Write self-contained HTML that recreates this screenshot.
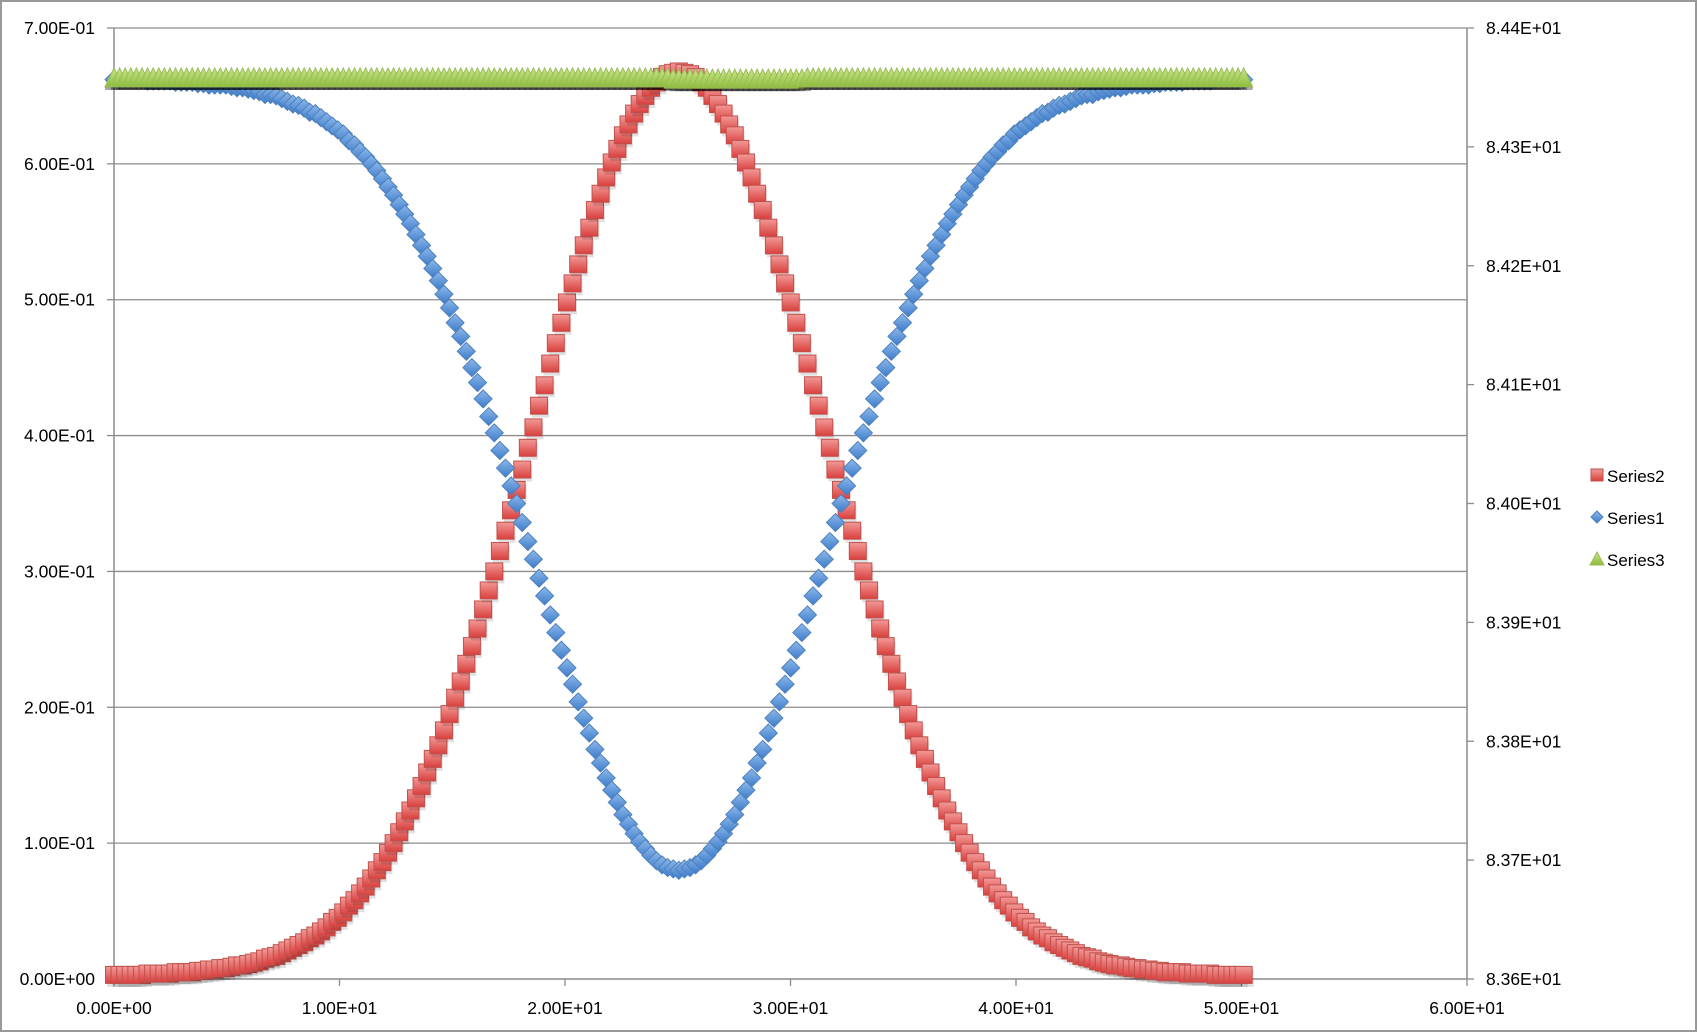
<!DOCTYPE html>
<html><head><meta charset="utf-8">
<style>
html,body{margin:0;padding:0;background:#fff;}
body{width:1698px;height:1033px;overflow:hidden;}
svg{display:block;font-family:"Liberation Sans",sans-serif;}
</style></head>
<body>
<svg id="chart" width="1698" height="1033" viewBox="0 0 1698 1033" xmlns="http://www.w3.org/2000/svg">
<defs>
<linearGradient id="gRed" x1="0" y1="0" x2="0" y2="1"><stop offset="0" stop-color="#f29a98"/><stop offset="1" stop-color="#d9403d"/></linearGradient>
<linearGradient id="gBlue" x1="0" y1="0" x2="0" y2="1"><stop offset="0" stop-color="#8db8ea"/><stop offset="1" stop-color="#3d7ccb"/></linearGradient>
<linearGradient id="gGreen" x1="0" y1="0" x2="0" y2="1"><stop offset="0" stop-color="#c9e58a"/><stop offset="1" stop-color="#8cbd3a"/></linearGradient>
</defs>
<rect x="1" y="1" width="1695" height="1030" fill="#fff" stroke="#999" stroke-width="2"/>
<g id="grid"></g>
<g id="axes"></g>
<g id="s2"></g><g id="s1"></g><g id="s3"></g>
<g id="legend">
<rect x="1591" y="469" width="12" height="12" fill="url(#gRed)" stroke="#c0504d" stroke-width="1"/>
<text x="1607" y="482" font-size="17" fill="#000">Series2</text>
<path d="M1597,511 L1603,517 L1597,523 L1591,517 Z" fill="url(#gBlue)" stroke="#4f81bd" stroke-width="1"/>
<text x="1607" y="524" font-size="17" fill="#000">Series1</text>
<path d="M1597,552 L1604,565 L1590,565 Z" fill="url(#gGreen)" stroke="#9bbb59" stroke-width="1"/>
<text x="1607" y="566" font-size="17" fill="#000">Series3</text>
</g>
</svg>
<script>
const xStart = 0;
const xStep = 0.248;
const series3Step = 0.248;
const xTicks = [0,10,20,30,40,50,60];
const xTickLabels = ["0.00E+00","1.00E+01","2.00E+01","3.00E+01","4.00E+01","5.00E+01","6.00E+01"];
const yTicks = [0,0.1,0.2,0.3,0.4,0.5,0.6,0.7];
const yTickLabels = ["0.00E+00","1.00E-01","2.00E-01","3.00E-01","4.00E-01","5.00E-01","6.00E-01","7.00E-01"];
const y2Ticks = [83.6,83.7,83.8,83.9,84.0,84.1,84.2,84.3,84.4];
const y2TickLabels = ["8.36E+01","8.37E+01","8.38E+01","8.39E+01","8.40E+01","8.41E+01","8.42E+01","8.43E+01","8.44E+01"];
const series2 = [.003,.003,.003,.003,.003,.003,.004,.004,.004,.004,.004,.005,.005,.005,.005,.006,.006,.007,.007,.008,.008,.009,.010,.010,.011,.012,.013,.015,.016,.017,.019,.021,.023,.025,.027,.030,.032,.035,.038,.042,.045,.049,.054,.058,.063,.068,.074,.080,.086,.093,.100,.108,.116,.124,.133,.142,.152,.162,.172,.183,.195,.207,.219,.232,.245,.258,.272,.286,.300,.315,.330,.345,.360,.375,.391,.406,.422,.437,.453,.468,.483,.498,.512,.526,.540,.553,.566,.578,.590,.601,.611,.621,.629,.637,.644,.650,.656,.660,.664,.666,.667,
.668,
.667,.666,.664,.660,.656,.650,.644,.637,.629,.621,.611,.601,.590,.578,.566,.553,.540,.526,.512,.498,.483,.468,.453,.437,.422,.406,.391,.375,.360,.345,.330,.315,.300,.286,.272,.258,.245,.232,.219,.207,.195,.183,.172,.162,.152,.142,.133,.124,.116,.108,.100,.093,.086,.080,.074,.068,.063,.058,.054,.049,.045,.042,.038,.035,.032,.030,.027,.025,.023,.021,.019,.017,.016,.015,.013,.012,.011,.010,.010,.009,.008,.008,.007,.007,.006,.006,.005,.005,.005,.005,.004,.004,.004,.004,.004,.003,.003,.003,.003,.003,.003];
const series1 = [.662,.662,.662,.662,.662,.662,.661,.661,.661,.661,.661,.660,.660,.660,.660,.659,.659,.658,.658,.658,.658,.657,.656,.656,.655,.654,.653,.651,.651,.650,.648,.646,.644,.643,.641,.638,.637,.634,.631,.628,.625,.622,.617,.614,.609,.605,.600,.595,.589,.583,.577,.570,.563,.556,.548,.540,.532,.523,.514,.504,.494,.483,.473,.462,.450,.439,.427,.414,.402,.389,.376,.363,.350,.336,.322,.309,.295,.282,.268,.255,.242,.229,.217,.204,.192,.181,.169,.159,.148,.139,.130,.121,.114,.107,.101,.096,.091,.087,.084,.082,.081,
.080,
.081,.082,.084,.087,.091,.096,.101,.107,.114,.121,.130,.139,.148,.159,.169,.181,.192,.204,.217,.229,.242,.255,.268,.282,.295,.309,.322,.336,.350,.363,.376,.389,.402,.414,.427,.439,.450,.462,.473,.483,.494,.504,.514,.523,.532,.540,.548,.556,.563,.570,.577,.583,.589,.595,.600,.605,.609,.614,.617,.622,.625,.628,.631,.634,.637,.638,.641,.643,.644,.646,.648,.650,.651,.651,.653,.654,.655,.656,.656,.657,.658,.658,.658,.658,.659,.659,.660,.660,.660,.660,.661,.661,.661,.661,.661,.662,.662,.662,.662,.662,.662];
const series3 = [84.358,84.358,84.358,84.358,84.358,84.358,84.358,84.358,84.358,84.358,84.358,84.358,84.358,84.358,84.358,84.358,84.358,84.358,84.358,84.358,84.358,84.358,84.358,84.358,84.358,84.358,84.358,84.358,84.358,84.358,84.358,84.358,84.358,84.358,84.358,84.358,84.358,84.358,84.358,84.358,84.358,84.358,84.358,84.358,84.358,84.358,84.358,84.358,84.358,84.358,
84.358,84.358,84.358,84.358,84.358,84.358,84.358,84.358,84.358,84.358,84.358,84.358,84.358,84.358,84.358,84.358,84.358,84.358,84.358,84.358,84.358,84.358,84.358,84.358,84.358,84.358,84.358,84.358,84.358,84.358,84.358,84.358,84.358,84.358,84.358,84.358,84.358,84.358,84.358,84.358,84.358,84.358,84.358,84.358,84.358,84.358,84.358,84.358,84.358,84.358,
84.357,84.357,84.357,84.357,84.357,84.357,84.357,84.357,84.357,84.357,84.357,84.357,84.357,84.357,84.357,84.357,84.357,84.357,84.357,84.357,84.357,84.357,84.357,84.357,84.358,84.358,84.358,84.358,84.358,84.358,84.358,84.358,84.358,84.358,84.358,84.358,84.358,84.358,84.358,84.358,84.358,84.358,84.358,84.358,84.358,84.358,84.358,84.358,84.358,84.358,
84.358,84.358,84.358,84.358,84.358,84.358,84.358,84.358,84.358,84.358,84.358,84.358,84.358,84.358,84.358,84.358,84.358,84.358,84.358,84.358,84.358,84.358,84.358,84.358,84.358,84.358,84.358,84.358,84.358,84.358,84.358,84.358,84.358,84.358,84.358,84.358,84.358,84.358,84.358,84.358,84.358,84.358,84.358,84.358,84.358,84.358,84.358,84.358,84.358,84.358,
84.358,84.358,84.358];

const NS = "http://www.w3.org/2000/svg";
const L = 114, R = 1467, T = 28, B = 979;
function xs(v){ return L + (v - 0) / 60 * (R - L); }
function ys(v){ return B - v / 0.7 * (B - T); }
function ys2(v){ return B - (v - 83.6) / 0.8 * (B - T); }
function mk(tag, attrs, parent){
  const e = document.createElementNS(NS, tag);
  for (const k in attrs) e.setAttribute(k, attrs[k]);
  parent.appendChild(e);
  return e;
}
const grid = document.getElementById('grid');
const axes = document.getElementById('axes');
yTicks.forEach((v, i) => {
  const y = ys(v);
  if (i > 0) {
    const g = mk('line', {x1:L, x2:R, y1:y, y2:y, stroke:'#8c8c8c', 'stroke-width':1.3}, grid);
    
    
  }
  const tk = mk('line', {x1:L-7, x2:L, y1:y, y2:y, stroke:'#8c8c8c', 'stroke-width':1.3}, axes);
  
  
  const t = mk('text', {x:95, y:y+6, 'text-anchor':'end', 'font-size':17.5, fill:'#000'}, axes);
  t.textContent = yTickLabels[i];
  
  
});
y2Ticks.forEach((v, i) => {
  const y = ys2(v);
  const tk = mk('line', {x1:R, x2:R+7, y1:y, y2:y, stroke:'#8c8c8c', 'stroke-width':1.3}, axes);
  
  
  const t = mk('text', {x:1486, y:y+6, 'font-size':17.5, fill:'#000'}, axes);
  t.textContent = y2TickLabels[i];
  
  
});
xTicks.forEach((v, i) => {
  const x = xs(v);
  const tk = mk('line', {x1:x, x2:x, y1:B, y2:B+7, stroke:'#8c8c8c', 'stroke-width':1.3}, axes);
  
  
  const t = mk('text', {x:x, y:1014, 'text-anchor':'middle', 'font-size':17.5, fill:'#000'}, axes);
  t.textContent = xTickLabels[i];
  
  
});
const ax1 = mk('line', {x1:L, x2:L, y1:T, y2:B, stroke:'#8c8c8c', 'stroke-width':1.5}, axes);


const ax2 = mk('line', {x1:R, x2:R, y1:T, y2:B, stroke:'#8c8c8c', 'stroke-width':1.5}, axes);


const ax3 = mk('line', {x1:L, x2:R, y1:B, y2:B, stroke:'#8c8c8c', 'stroke-width':1.5}, axes);



const g2 = document.getElementById('s2');
series2.forEach((v, i) => {
  const x = xs(xStart + i * xStep), y = ys(v);
  mk('rect', {x:x-7, y:y-5, width:17, height:17, fill:'rgba(0,0,0,0.12)'}, g2);
  const r = mk('rect', {x:x-8.5, y:y-8.5, width:17, height:17, fill:'url(#gRed)', stroke:'#c0504d', 'stroke-width':1}, g2);
  
  
});
const g1 = document.getElementById('s1');
series1.forEach((v, i) => {
  const x = xs(xStart + i * xStep), y = ys(v);
  const p = mk('path', {d:`M${x},${y-9} L${x+9},${y} L${x},${y+9} L${x-9},${y} Z`, fill:'url(#gBlue)', stroke:'#4f81bd', 'stroke-width':1}, g1);
  
  
});
const g3 = document.getElementById('s3');
series3.forEach((v, i) => {
  const x = xs(xStart + i * series3Step), y = ys2(v);
  mk('rect', {x:x-9, y:y+9, width:18, height:3, fill:'rgba(0,0,0,0.35)'}, g3);
  const p = mk('path', {d:`M${x},${y-10} L${x+9},${y+9} L${x-9},${y+9} Z`, fill:'url(#gGreen)', stroke:'#9bbb59', 'stroke-width':1}, g3);
  
  
});
</script>
</body></html>
